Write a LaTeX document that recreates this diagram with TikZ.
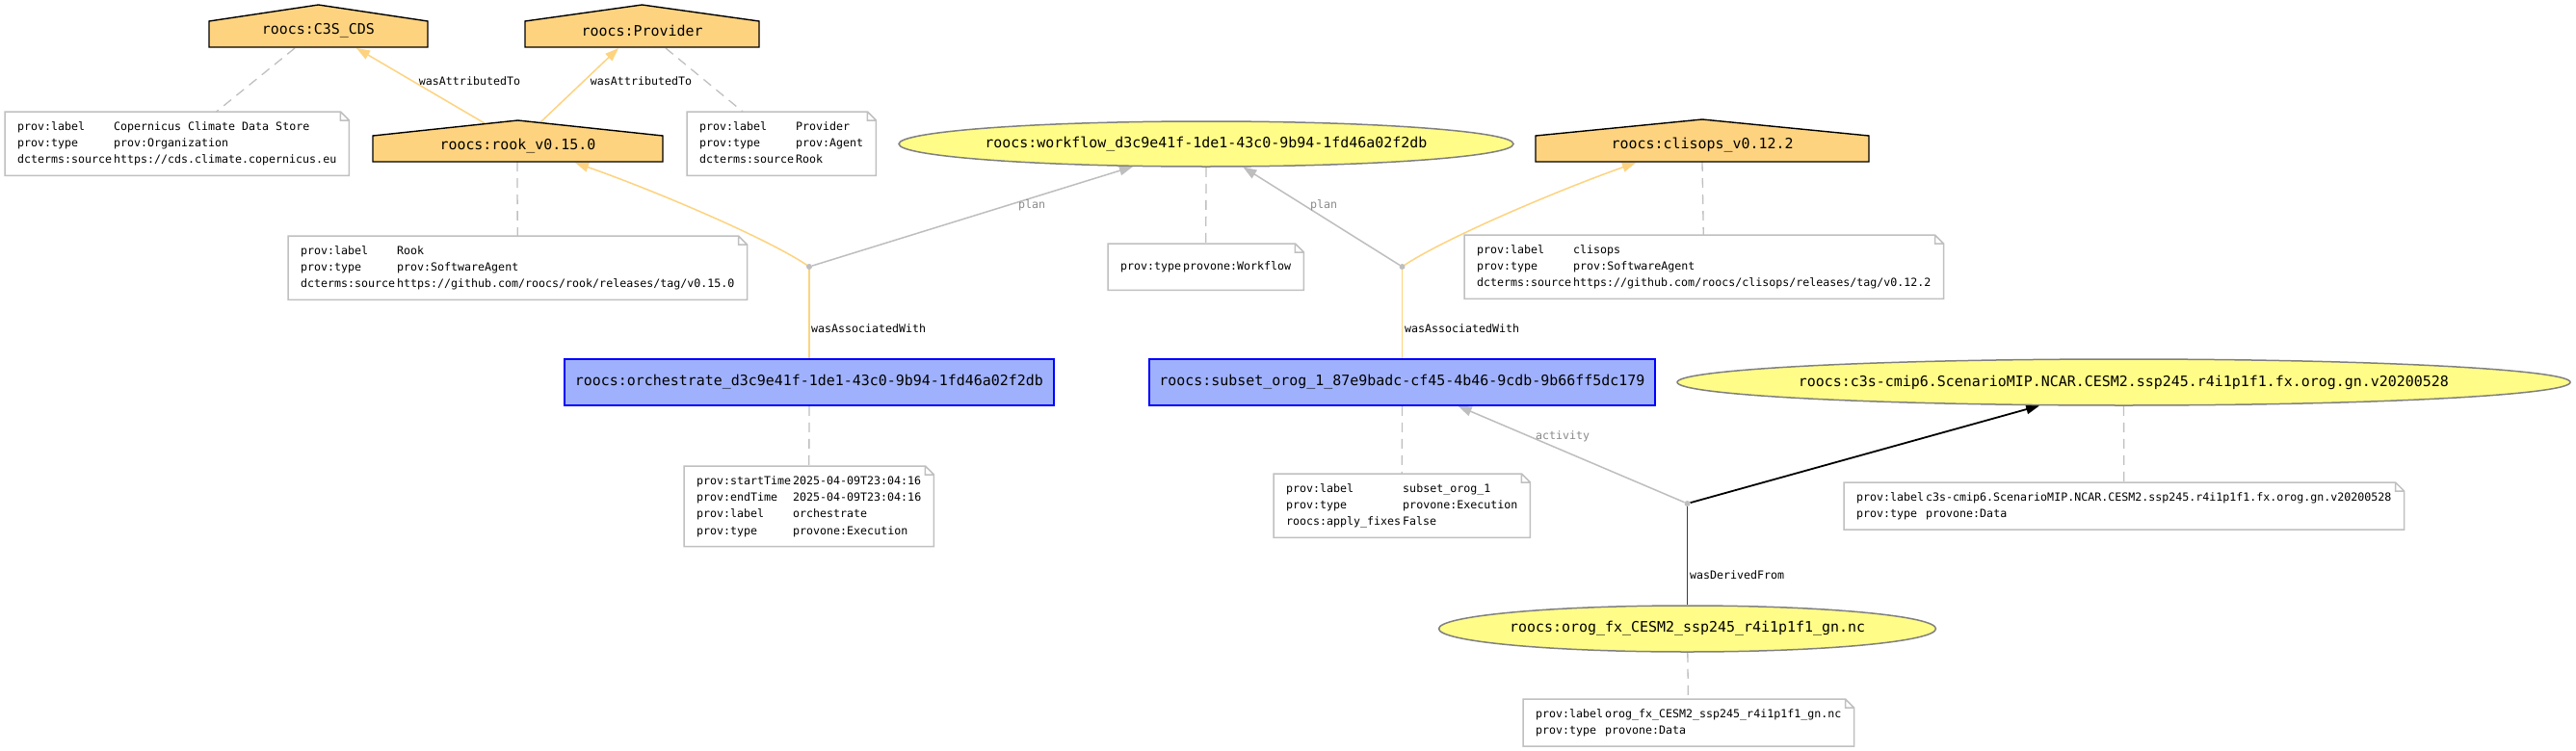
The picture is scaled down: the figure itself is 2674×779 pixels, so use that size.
\documentclass[tikz,border=0pt]{standalone}
\usepackage{fontspec}
\newfontfamily\dvm{DejaVu Sans Mono}
\usetikzlibrary{arrows.meta,shapes.geometric}
\newcommand\provmain{\dvm\fontsize{14.95pt}{17pt}\selectfont}
\newcommand\provnote{\dvm\fontsize{11.63pt}{17.25pt}\selectfont}
\definecolor{agentfill}{HTML}{FED37F}
\definecolor{actfill}{HTML}{9FB1FC}
\definecolor{entfill}{HTML}{FFFC87}
\definecolor{entdraw}{HTML}{808080}
\definecolor{notegray}{HTML}{C0C0C0}
\definecolor{edgegray}{HTML}{BEBEBE}
\definecolor{lblgray}{HTML}{8A8A8A}
\definecolor{dkline}{HTML}{3C3C3C}
\pgfdeclarelayer{bg}
\pgfsetlayers{bg,main}
\newcommand\notefold[1]{%
  \draw[noteline] (#1.south west) -- (#1.north west) -- ([xshift=-9pt]#1.north east)
    -- ([yshift=-9pt]#1.north east) -- (#1.south east) -- cycle
    ([xshift=-9pt]#1.north east) |- ([yshift=-9pt]#1.north east);}
\begin{document}
\begin{tikzpicture}[x=1pt,y=-1pt,
  agentshape/.style={fill=agentfill,draw=black,line width=1.4pt,line join=miter},
  actbox/.style={rectangle,fill=actfill,draw=blue,line width=1.5pt,inner sep=0pt,font=\provmain},
  entity/.style={ellipse,fill=entfill,draw=entdraw,line width=1.5pt,inner sep=0pt},
  maintext/.style={font=\provmain,inner sep=0pt},
  note/.style={rectangle,fill=white,inner xsep=13pt,inner ysep=7.1pt,minimum height=48pt,font=\provnote,anchor=north west},
  noteline/.style={draw=notegray,line width=1.5pt,line join=miter},
  annlink/.style={draw=notegray,line width=1.3pt,dash pattern=on 10pt off 7pt},
  elabel/.style={font=\provnote,inner sep=0pt,anchor=mid},
  glabel/.style={elabel,text=lblgray},
  bnode/.style={circle,fill=edgegray,inner sep=0pt,minimum size=6pt},
  tipo/.style={-{Triangle[length=14pt,width=10pt]}},
  orangeedge/.style={draw=agentfill,line width=1.5pt},
  grayedge/.style={draw=edgegray,line width=1.5pt},
  blackedge/.style={draw=black,line width=1.8pt},
  dkedge/.style={draw=dkline,line width=1.6pt},
]
\begin{pgfonlayer}{bg}
\fill[white] (0,0) rectangle (2674,779);
\end{pgfonlayer}
\useasboundingbox (0,0) rectangle (2674,779);

% agents (house shapes)
\filldraw[agentshape] (217,49) -- (444,49) -- (444,22) -- (330.5,5) -- (217,22) -- cycle;
\node[maintext] (c3s) at (330.5,32) {roocs:C3S\_CDS};
\filldraw[agentshape] (545,49) -- (788,49) -- (788,22) -- (666.5,5) -- (545,22) -- cycle;
\node[maintext] (provider) at (666.5,32) {roocs:Provider};
\filldraw[agentshape] (387,168) -- (688,168) -- (688,141) -- (537.5,125) -- (387,141) -- cycle;
\node[maintext] (rook) at (537.5,152) {roocs:rook\_v0.15.0};
\filldraw[agentshape] (1594,168) -- (1940,168) -- (1940,141) -- (1767,124) -- (1594,141) -- cycle;
\node[maintext] (clisops) at (1767,151) {roocs:clisops\_v0.12.2};

\coordinate (rook-r1) at (503,128);
\coordinate (rook-r2) at (561,127);
\coordinate (c3s-in) at (370,50);
\coordinate (prov-in) at (642,50);
\coordinate (rook-in) at (597,169);
\coordinate (cli-in) at (1698,169);
\coordinate (c3s-a) at (306,50);
\coordinate (prov-a) at (691,50);
\coordinate (rook-a) at (537,168);
\coordinate (cli-a) at (1767,168);

% entities
\node[entity,minimum width=638pt,minimum height=47pt] (wf) at (1252,149.5) {};
\node[maintext] (wf-t) at (wf) {roocs:workflow\_d3c9e41f-1de1-43c0-9b94-1fd46a02f2db};
\node[entity,minimum width=927pt,minimum height=48pt] (c3sd) at (2204.5,397) {};
\node[maintext] (c3sd-t) at (c3sd) {roocs:c3s-cmip6.ScenarioMIP.NCAR.CESM2.ssp245.r4i1p1f1.fx.orog.gn.v20200528};
\node[entity,minimum width=516pt,minimum height=48pt] (orog) at (1751.5,653) {};
\node[maintext] (orog-t) at (orog) {roocs:orog\_fx\_CESM2\_ssp245\_r4i1p1f1\_gn.nc};

% activities
\node[actbox,minimum width=508pt,minimum height=48pt] (orch) at (840,397) {roocs:orchestrate\_d3c9e41f-1de1-43c0-9b94-1fd46a02f2db};
\node[actbox,minimum width=525pt,minimum height=48pt] (sub) at (1455.5,397) {roocs:subset\_orog\_1\_87e9badc-cf45-4b46-9cdb-9b66ff5dc179};

% blank nodes
\node[bnode] (d1) at (840,277) {};
\node[bnode] (d2) at (1455.5,277) {};
\node[bnode] (d3) at (1751.5,523) {};

% notes
\node[note] (n-c3s) at (5,116) {\begin{tabular}{@{}l@{\hspace{2pt}}l@{}}prov:label & Copernicus Climate Data Store\\ prov:type & prov:Organization\\ dcterms:source & https://cds.climate.copernicus.eu\end{tabular}};
\notefold{n-c3s}
\node[note] (n-prov) at (713,116) {\begin{tabular}{@{}l@{\hspace{2pt}}l@{}}prov:label & Provider\\ prov:type & prov:Agent\\ dcterms:source & Rook\end{tabular}};
\notefold{n-prov}
\node[note] (n-rook) at (299,245) {\begin{tabular}{@{}l@{\hspace{2pt}}l@{}}prov:label & Rook\\ prov:type & prov:SoftwareAgent\\ dcterms:source & https://github.com/roocs/rook/releases/tag/v0.15.0\end{tabular}};
\notefold{n-rook}
\node[note] (n-wf) at (1150,253) {\begin{tabular}{@{}l@{\hspace{2pt}}l@{}}prov:type & provone:Workflow\end{tabular}};
\notefold{n-wf}
\node[note] (n-cli) at (1520,244) {\begin{tabular}{@{}l@{\hspace{2pt}}l@{}}prov:label & clisops\\ prov:type & prov:SoftwareAgent\\ dcterms:source & https://github.com/roocs/clisops/releases/tag/v0.12.2\end{tabular}};
\notefold{n-cli}
\node[note] (n-orch) at (710,484) {\begin{tabular}{@{}l@{\hspace{2pt}}l@{}}prov:startTime & 2025-04-09T23:04:16\\ prov:endTime & 2025-04-09T23:04:16\\ prov:label & orchestrate\\ prov:type & provone:Execution\end{tabular}};
\notefold{n-orch}
\node[note] (n-sub) at (1322,492) {\begin{tabular}{@{}l@{\hspace{2pt}}l@{}}prov:label & subset\_orog\_1\\ prov:type & provone:Execution\\ roocs:apply\_fixes & False\end{tabular}};
\notefold{n-sub}
\node[note] (n-c3sd) at (1914,501) {\begin{tabular}{@{}l@{\hspace{2pt}}l@{}}prov:label & c3s-cmip6.ScenarioMIP.NCAR.CESM2.ssp245.r4i1p1f1.fx.orog.gn.v20200528\\ prov:type & provone:Data\end{tabular}};
\notefold{n-c3sd}
\node[note] (n-orog) at (1581,726) {\begin{tabular}{@{}l@{\hspace{2pt}}l@{}}prov:label & orog\_fx\_CESM2\_ssp245\_r4i1p1f1\_gn.nc\\ prov:type & provone:Data\end{tabular}};
\notefold{n-orog}

% edge labels
\node[elabel] (l-att1) at (487.5,86) {wasAttributedTo};
\node[elabel] (l-att2) at (665.5,86) {wasAttributedTo};
\node[glabel] (l-plan1) at (1071,214) {plan};
\node[glabel] (l-plan2) at (1374,214) {plan};
\node[elabel,anchor=mid west] (l-assoc1) at (842,343) {wasAssociatedWith};
\node[elabel,anchor=mid west] (l-assoc2) at (1458,343) {wasAssociatedWith};
\node[glabel] (l-act) at (1622,454) {activity};
\node[elabel,anchor=mid west] (l-der) at (1754,599) {wasDerivedFrom};

% edges
\begin{pgfonlayer}{bg}
\draw[annlink] (c3s-a) -- (n-c3s);
\draw[annlink] (prov-a) -- (n-prov);
\draw[annlink] (rook-a) -- (n-rook);
\draw[annlink] (wf) -- (n-wf);
\draw[annlink] (cli-a) -- (n-cli);
\draw[annlink] (orch) -- (n-orch);
\draw[annlink] (sub) -- (n-sub);
\draw[annlink] (c3sd) -- (n-c3sd);
\draw[annlink] (orog) -- (n-orog);

\draw[orangeedge,tipo] (rook-r1) -- (c3s-in);
\draw[orangeedge,tipo] (rook-r2) -- (prov-in);
\draw[orangeedge] (orch) -- (d1.center);
\draw[orangeedge,tipo] (d1.center) .. controls (800,249) and (680,198) .. (rook-in);
\draw[grayedge,tipo] (d1) -- (wf);
\draw[orangeedge] (sub) -- (d2.center);
\draw[orangeedge,tipo] (d2.center) .. controls (1496,249) and (1616,198) .. (cli-in);
\draw[grayedge,tipo] (d2) -- (wf);
\draw[dkedge] (orog) -- (d3.center);
\draw[grayedge,tipo] (d3) -- (sub);
\draw[blackedge,tipo] (d3) -- (c3sd);
\end{pgfonlayer}
\end{tikzpicture}
\end{document}
